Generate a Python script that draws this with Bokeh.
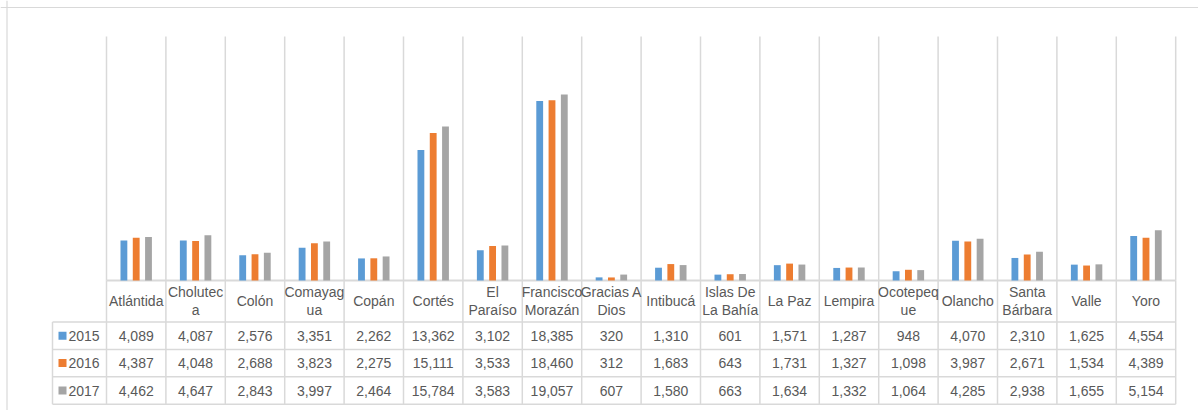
from bokeh.plotting import figure
from bokeh.models import Range1d, Span
from bokeh.core.properties import value
from bokeh.embed import file_html
from bokeh.resources import INLINE

# ---------------- data ----------------
labels = ["Atlántida", "Cholutec\na", "Colón", "Comayag\nua", "Copán", "Cortés",
          "El\nParaíso", "Francisco\nMorazán", "Gracias A\nDios", "Intibucá",
          "Islas De\nLa Bahía", "La Paz", "Lempira", "Ocotepeq\nue", "Olancho",
          "Santa\nBárbara", "Valle", "Yoro"]
years = ["2015", "2016", "2017"]
v2015 = [4089, 4087, 2576, 3351, 2262, 13362, 3102, 18385, 320, 1310, 601, 1571, 1287, 948, 4070, 2310, 1625, 4554]
v2016 = [4387, 4048, 2688, 3823, 2275, 15111, 3533, 18460, 312, 1683, 643, 1731, 1327, 1098, 3987, 2671, 1534, 4389]
v2017 = [4462, 4647, 2843, 3997, 2464, 15784, 3583, 19057, 607, 1580, 663, 1634, 1332, 1064, 4285, 2938, 1655, 5154]
series = [v2015, v2016, v2017]
colors = ["#5B9BD5", "#ED7D31", "#A5A5A5"]
YMAX = 25000

# ---------------- geometry (pixels, page-relative) ----------------
W, H = 1198, 410
CAT_PX = 59.4
PLOT_LEFT = 106.0
TOP_PX = 36.0
BASE_PX = 280.0
ROW_PX = 27.4
HDR_PX = 41.5
LEFTCOL_PX = 54.0
FONT = "Liberation Sans"
FS = "14px"
TXT = "#595959"
GRID = "#d9d9d9"

n = len(labels)
x0 = -PLOT_LEFT / CAT_PX
x1 = (W - PLOT_LEFT) / CAT_PX
k = (BASE_PX - TOP_PX) / YMAX
y0 = -(H - BASE_PX) / k
y1 = BASE_PX / k
HDR = HDR_PX / ROW_PX
TBL_BOTTOM = BASE_PX + 3 * ROW_PX + HDR_PX
t0 = -(H - TBL_BOTTOM) / ROW_PX
t1 = TBL_BOTTOM / ROW_PX
LC = -LEFTCOL_PX / CAT_PX

p = figure(width=W, height=H, x_range=Range1d(x0, x1), y_range=Range1d(y0, y1),
           output_backend="svg", toolbar_location=None, min_border=0,
           x_axis_location=None, y_axis_location=None, outline_line_color=None)
p.xgrid.visible = False
p.ygrid.visible = False
p.extra_y_ranges = {"tbl": Range1d(t0, t1)}

# outer frame lines
p.add_layout(Span(location=x0 + 6.5 / CAT_PX, dimension="height", line_color=GRID, line_width=1.2))
p.add_layout(Span(location=y1 - 7.0 / k, dimension="width", line_color=GRID, line_width=1.2))

bounds = list(range(n + 1))
# vertical category dividers in plot area
p.segment(x0=bounds, y0=[0] * len(bounds), x1=bounds, y1=[YMAX] * len(bounds),
          line_color=GRID, line_width=1.5)
# table vertical lines
p.segment(x0=bounds, y0=[0] * len(bounds), x1=bounds, y1=[3 + HDR] * len(bounds),
          line_color=GRID, line_width=1.5, y_range_name="tbl")
p.segment(x0=[LC], y0=[0], x1=[LC], y1=[3], line_color=GRID, line_width=1.5, y_range_name="tbl")
# table horizontal lines
p.segment(x0=[LC] * 4, y0=[0, 1, 2, 3], x1=[n] * 4, y1=[0, 1, 2, 3],
          line_color=GRID, line_width=1.5, y_range_name="tbl")
# baseline (axis)
p.segment(x0=[0], y0=[0], x1=[n], y1=[0], line_color=GRID, line_width=2)

# bars
offsets = [-0.207, 0.0, 0.207]
centers = [i + 0.5 for i in range(n)]
for vals, off, col in zip(series, offsets, colors):
    p.vbar(x=[c + off for c in centers], top=vals, bottom=0, width=0.115,
           fill_color=col, line_color=None)

# header labels
p.text(x=centers, y=[3 + HDR / 2] * n, text=labels, y_range_name="tbl",
       text_align="center", text_baseline="middle", text_font=value(FONT),
       text_font_size=FS, text_color=TXT, text_line_height=1.15)

# values
row_y = [2.5, 1.5, 0.5]
for vals, ry in zip(series, row_y):
    p.text(x=centers, y=[ry] * n, text=[f"{v:,}" for v in vals], y_range_name="tbl",
           text_align="center", text_baseline="middle", text_font=value(FONT),
           text_font_size=FS, text_color=TXT)

# legend keys
p.scatter(x=[LC + 10 / CAT_PX] * 3, y=row_y, marker="square", size=8,
          fill_color=colors, line_color=None, y_range_name="tbl")
p.text(x=[LC + 16 / CAT_PX] * 3, y=row_y, text=years, y_range_name="tbl",
       text_align="left", text_baseline="middle", text_font=value(FONT),
       text_font_size=FS, text_color=TXT)

open("out.html", "w").write(file_html(p, INLINE))
